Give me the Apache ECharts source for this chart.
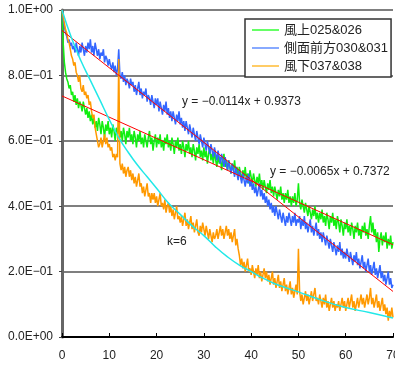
<!DOCTYPE html>
<html>
<head>
<meta charset="utf-8">
<script src="https://cdn.jsdelivr.net/npm/echarts@6/dist/echarts.min.js"></script>
<style>
  html, body { margin: 0; padding: 0; background: #fff; }
  #chart { width: 395px; height: 367px; }
</style>
</head>
<body>
<div id="chart"></div>
<script>
// x runs from 0 to 70 in steps of 0.25
const STEP = 0.25

const names = ['風上025&026', '側面前方030&031', '風下037&038']

const windward = [
  1.00, 0.90, 0.84, 0.81, 0.79, 0.78, 0.76, 0.77, 0.74, 0.75,
  0.72, 0.74, 0.71, 0.73, 0.70, 0.72, 0.71, 0.69, 0.72, 0.70,
  0.68, 0.70, 0.67, 0.69, 0.66, 0.68, 0.65, 0.67, 0.64, 0.66,
  0.63, 0.67, 0.65, 0.62, 0.66, 0.64, 0.61, 0.65, 0.63, 0.66,
  0.62, 0.64, 0.61, 0.65, 0.63, 0.60, 0.64, 0.62, 0.65, 0.61,
  0.63, 0.60, 0.64, 0.62, 0.59, 0.63, 0.61, 0.64, 0.60, 0.62,
  0.59, 0.63, 0.61, 0.58, 0.62, 0.60, 0.63, 0.59, 0.61, 0.58,
  0.62, 0.60, 0.58, 0.61, 0.63, 0.59, 0.61, 0.57, 0.60, 0.62,
  0.58, 0.61, 0.59, 0.62, 0.58, 0.60, 0.57, 0.61, 0.59, 0.62,
  0.58, 0.60, 0.57, 0.61, 0.59, 0.56, 0.60, 0.58, 0.61, 0.57,
  0.59, 0.56, 0.60, 0.58, 0.55, 0.59, 0.57, 0.60, 0.56, 0.58,
  0.55, 0.59, 0.57, 0.54, 0.58, 0.56, 0.59, 0.55, 0.57, 0.54,
  0.58, 0.55, 0.57, 0.53, 0.56, 0.58, 0.54, 0.56, 0.53, 0.57,
  0.54, 0.52, 0.56, 0.53, 0.55, 0.51, 0.54, 0.56, 0.52, 0.54,
  0.51, 0.54, 0.52, 0.50, 0.53, 0.51, 0.54, 0.50, 0.52, 0.49,
  0.52, 0.50, 0.48, 0.51, 0.49, 0.52, 0.48, 0.50, 0.47, 0.51,
  0.49, 0.47, 0.50, 0.48, 0.46, 0.49, 0.47, 0.50, 0.46, 0.48,
  0.45, 0.48, 0.46, 0.44, 0.47, 0.45, 0.48, 0.44, 0.46, 0.43,
  0.46, 0.44, 0.42, 0.45, 0.43, 0.46, 0.42, 0.44, 0.41, 0.44,
  0.42, 0.45, 0.41, 0.43, 0.40, 0.43, 0.41, 0.44, 0.40, 0.42,
  0.47, 0.41, 0.39, 0.42, 0.40, 0.38, 0.41, 0.39, 0.37, 0.40,
  0.38, 0.36, 0.39, 0.37, 0.40, 0.36, 0.38, 0.35, 0.38, 0.36,
  0.39, 0.35, 0.37, 0.34, 0.38, 0.36, 0.33, 0.37, 0.35, 0.38,
  0.34, 0.36, 0.33, 0.37, 0.35, 0.32, 0.36, 0.34, 0.31, 0.35,
  0.33, 0.36, 0.32, 0.34, 0.31, 0.35, 0.33, 0.30, 0.34, 0.32,
  0.35, 0.31, 0.33, 0.30, 0.34, 0.32, 0.35, 0.31, 0.33, 0.30,
  0.34, 0.37, 0.32, 0.35, 0.31, 0.33, 0.29, 0.32, 0.26, 0.30,
  0.32, 0.28, 0.31, 0.29, 0.32, 0.27, 0.30, 0.28, 0.31, 0.27,
  0.29
]

const sideFront = [
  1.00, 0.97, 0.95, 0.93, 0.92, 0.90, 0.91, 0.89, 0.90, 0.88,
  0.89, 0.87, 0.90, 0.88, 0.86, 0.89, 0.87, 0.90, 0.88, 0.86,
  0.89, 0.87, 0.90, 0.88, 0.91, 0.87, 0.89, 0.86, 0.90, 0.88,
  0.86, 0.88, 0.85, 0.87, 0.86, 0.88, 0.84, 0.86, 0.85, 0.83,
  0.85, 0.83, 0.82, 0.84, 0.81, 0.83, 0.80, 0.82, 0.88, 0.80,
  0.79, 0.81, 0.78, 0.80, 0.77, 0.79, 0.78, 0.76, 0.79, 0.77,
  0.78, 0.75, 0.77, 0.74, 0.76, 0.78, 0.74, 0.76, 0.73, 0.75,
  0.74, 0.76, 0.72, 0.74, 0.73, 0.71, 0.74, 0.72, 0.70, 0.73,
  0.71, 0.73, 0.69, 0.72, 0.70, 0.68, 0.71, 0.69, 0.72, 0.68,
  0.70, 0.67, 0.69, 0.66, 0.69, 0.67, 0.65, 0.68, 0.66, 0.69,
  0.65, 0.67, 0.64, 0.66, 0.63, 0.66, 0.64, 0.62, 0.65, 0.63,
  0.61, 0.64, 0.62, 0.60, 0.63, 0.61, 0.59, 0.62, 0.60, 0.58,
  0.61, 0.59, 0.57, 0.60, 0.58, 0.56, 0.59, 0.57, 0.55, 0.58,
  0.56, 0.54, 0.57, 0.55, 0.53, 0.56, 0.54, 0.52, 0.55, 0.53,
  0.51, 0.54, 0.52, 0.50, 0.53, 0.51, 0.49, 0.52, 0.50, 0.48,
  0.51, 0.49, 0.47, 0.50, 0.48, 0.46, 0.49, 0.47, 0.50, 0.46,
  0.48, 0.45, 0.47, 0.44, 0.46, 0.43, 0.45, 0.47, 0.43, 0.45,
  0.42, 0.44, 0.41, 0.43, 0.40, 0.42, 0.39, 0.41, 0.38, 0.40,
  0.37, 0.40, 0.38, 0.36, 0.39, 0.37, 0.35, 0.38, 0.36, 0.34,
  0.37, 0.35, 0.38, 0.36, 0.34, 0.37, 0.35, 0.38, 0.34, 0.36,
  0.35, 0.37, 0.33, 0.36, 0.34, 0.37, 0.33, 0.35, 0.32, 0.34,
  0.36, 0.32, 0.34, 0.31, 0.33, 0.35, 0.31, 0.33, 0.30, 0.32,
  0.29, 0.32, 0.30, 0.28, 0.31, 0.29, 0.27, 0.30, 0.28, 0.26,
  0.29, 0.27, 0.25, 0.28, 0.26, 0.29, 0.25, 0.27, 0.24, 0.26,
  0.24, 0.27, 0.25, 0.23, 0.26, 0.24, 0.22, 0.25, 0.23, 0.26,
  0.22, 0.24, 0.21, 0.23, 0.25, 0.21, 0.23, 0.20, 0.22, 0.24,
  0.20, 0.22, 0.19, 0.21, 0.23, 0.19, 0.21, 0.18, 0.20, 0.22,
  0.18, 0.20, 0.17, 0.19, 0.16, 0.18, 0.20, 0.16, 0.18, 0.15,
  0.16
]

const leeward = [
  1.00, 0.98, 0.96, 0.94, 0.93, 0.91, 0.90, 0.88, 0.86, 0.85,
  0.83, 0.84, 0.81, 0.80, 0.78, 0.80, 0.76, 0.75, 0.77, 0.74,
  0.75, 0.73, 0.74, 0.71, 0.72, 0.69, 0.67, 0.68, 0.64, 0.62,
  0.60, 0.58, 0.59, 0.61, 0.58, 0.60, 0.62, 0.59, 0.61, 0.58,
  0.59, 0.57, 0.58, 0.55, 0.56, 0.54, 0.56, 0.55, 0.85, 0.53,
  0.51, 0.53, 0.50, 0.52, 0.49, 0.51, 0.52, 0.49, 0.51, 0.48,
  0.50, 0.47, 0.49, 0.46, 0.48, 0.50, 0.46, 0.47, 0.44, 0.46,
  0.43, 0.45, 0.47, 0.43, 0.44, 0.41, 0.44, 0.42, 0.44, 0.41,
  0.43, 0.40, 0.42, 0.44, 0.40, 0.41, 0.39, 0.42, 0.38, 0.40,
  0.41, 0.38, 0.40, 0.37, 0.39, 0.36, 0.38, 0.40, 0.36, 0.37,
  0.35, 0.37, 0.34, 0.36, 0.38, 0.34, 0.36, 0.33, 0.35, 0.37,
  0.33, 0.35, 0.32, 0.34, 0.36, 0.32, 0.31, 0.34, 0.32, 0.35,
  0.33, 0.31, 0.34, 0.32, 0.30, 0.33, 0.31, 0.29, 0.32, 0.30,
  0.31, 0.33, 0.30, 0.32, 0.34, 0.31, 0.33, 0.30, 0.32, 0.34,
  0.31, 0.33, 0.30, 0.32, 0.29, 0.31, 0.33, 0.28, 0.30, 0.27,
  0.25, 0.22, 0.24, 0.21, 0.23, 0.20, 0.22, 0.24, 0.20, 0.21,
  0.19, 0.22, 0.20, 0.18, 0.21, 0.19, 0.22, 0.18, 0.20, 0.17,
  0.19, 0.21, 0.18, 0.20, 0.17, 0.19, 0.16, 0.18, 0.20, 0.16,
  0.18, 0.15, 0.17, 0.19, 0.15, 0.17, 0.14, 0.16, 0.18, 0.14,
  0.16, 0.13, 0.15, 0.17, 0.13, 0.15, 0.12, 0.14, 0.16, 0.13,
  0.27, 0.14, 0.11, 0.13, 0.10, 0.12, 0.14, 0.11, 0.13, 0.10,
  0.12, 0.14, 0.11, 0.13, 0.15, 0.11, 0.12, 0.10, 0.13, 0.11,
  0.09, 0.12, 0.10, 0.13, 0.09, 0.11, 0.08, 0.10, 0.12, 0.09,
  0.11, 0.08, 0.10, 0.09, 0.11, 0.08, 0.10, 0.12, 0.09, 0.11,
  0.08, 0.10, 0.12, 0.09, 0.11, 0.13, 0.09, 0.11, 0.08, 0.10,
  0.12, 0.09, 0.11, 0.13, 0.10, 0.12, 0.09, 0.11, 0.13, 0.10,
  0.12, 0.15, 0.10, 0.12, 0.09, 0.11, 0.13, 0.09, 0.11, 0.08,
  0.10, 0.12, 0.08, 0.10, 0.07, 0.09, 0.05, 0.08, 0.06, 0.09,
  0.06
]

// linear fits shown on the chart
const fitX = [0, 70]
const sideFit = [0.9373, 0.1393]
const windFit = [0.7372, 0.2822]

// the k=6 curve
const curveX = [0, 2, 4, 6, 8, 10, 12, 14, 16, 18, 20, 22.5, 25, 27.5, 30, 32.5, 35, 37.5, 40, 42.5, 45, 47.5, 50, 55, 60, 65, 70]
const curveY = [1.0, 0.915, 0.845, 0.785, 0.725, 0.665, 0.61, 0.565, 0.525, 0.49, 0.455, 0.41, 0.375, 0.34, 0.31, 0.275, 0.245, 0.22, 0.20, 0.18, 0.163, 0.15, 0.138, 0.112, 0.09, 0.075, 0.058]

function pairs(vals) {
  return vals.map((v, i) => [i * STEP, v])
}
function zip(xs, ys) {
  return xs.map((x, i) => [x, ys[i]])
}
function sci(v) {
  if (Math.abs(v) < 1e-9) return '0.0E+00'
  let e = Math.floor(Math.log10(v) + 1e-9)
  let m = v / Math.pow(10, e)
  let s = e < 0 ? '−' : '+'
  let a = Math.abs(e)
  return m.toFixed(1) + 'E' + s + (a < 10 ? '0' + a : a)
}

const font = '"Liberation Sans", "Noto Sans CJK JP", sans-serif'

var chart = echarts.init(document.getElementById('chart'), null, { renderer: 'canvas' })
chart.setOption({
  animation: false,
  backgroundColor: '#fff',
  grid: { left: 62, right: 2, top: 10, bottom: 30, outerBoundsMode: 'none', containLabel: false },
  legend: {
    orient: 'vertical',
    left: 245,
    top: 19,
    backgroundColor: '#fff',
    borderColor: '#333',
    borderWidth: 1.5,
    padding: [3, 3, 3, 7],
    itemGap: 2,
    itemWidth: 27,
    itemHeight: 2,
    icon: 'rect',
    textStyle: { fontFamily: font, fontSize: 13, lineHeight: 16, color: '#222' },
    data: names
  },
  xAxis: {
    type: 'value',
    min: 0,
    max: 70,
    interval: 10,
    splitLine: { show: false },
    axisLine: { onZero: false, lineStyle: { color: '#000', width: 2 } },
    axisTick: { inside: true, length: 4, lineStyle: { color: '#000' } },
    axisLabel: { fontFamily: font, fontSize: 12, color: '#222', margin: 13 }
  },
  yAxis: {
    type: 'value',
    min: 0,
    max: 1,
    interval: 0.2,
    axisLine: { show: true, lineStyle: { color: '#666', width: 3 } },
    axisTick: { show: true, length: 3, lineStyle: { color: '#444' } },
    splitLine: { lineStyle: { color: '#555', width: 1.5 } },
    axisLabel: { fontFamily: font, fontSize: 12, color: '#222', margin: 9, formatter: sci }
  },
  series: [
    {
      name: names[0], type: 'line', data: pairs(windward), symbol: 'none',
      lineStyle: { color: '#11ee11', width: 1.5 }, itemStyle: { color: '#66ff66' }
    },
    {
      name: names[1], type: 'line', data: pairs(sideFront), symbol: 'none',
      lineStyle: { color: '#3366ff', width: 1.5 }, itemStyle: { color: '#88aaff' }
    },
    {
      name: names[2], type: 'line', data: pairs(leeward), symbol: 'none',
      lineStyle: { color: '#ff9900', width: 1.5 }, itemStyle: { color: '#ffcc66' }
    },
    {
      name: 'fit1', type: 'line', data: zip(fitX, sideFit), symbol: 'none',
      lineStyle: { color: '#ff0000', width: 1 }
    },
    {
      name: 'fit2', type: 'line', data: zip(fitX, windFit), symbol: 'none',
      lineStyle: { color: '#ff0000', width: 1 }
    },
    {
      name: 'k6', type: 'line', data: zip(curveX, curveY), symbol: 'none', smooth: true,
      lineStyle: { color: '#22e8e8', width: 1.5 }
    }
  ],
  graphic: [
    { type: 'text', left: 182, top: 96, style: { text: 'y = −0.0114x + 0.9373', font: '12px ' + font, fill: '#222' } },
    { type: 'text', left: 270, top: 166, style: { text: 'y = −0.0065x + 0.7372', font: '12px ' + font, fill: '#222' } },
    { type: 'text', left: 167, top: 236, style: { text: 'k=6', font: '12px ' + font, fill: '#222' } }
  ]
})
</script>
</body>
</html>
